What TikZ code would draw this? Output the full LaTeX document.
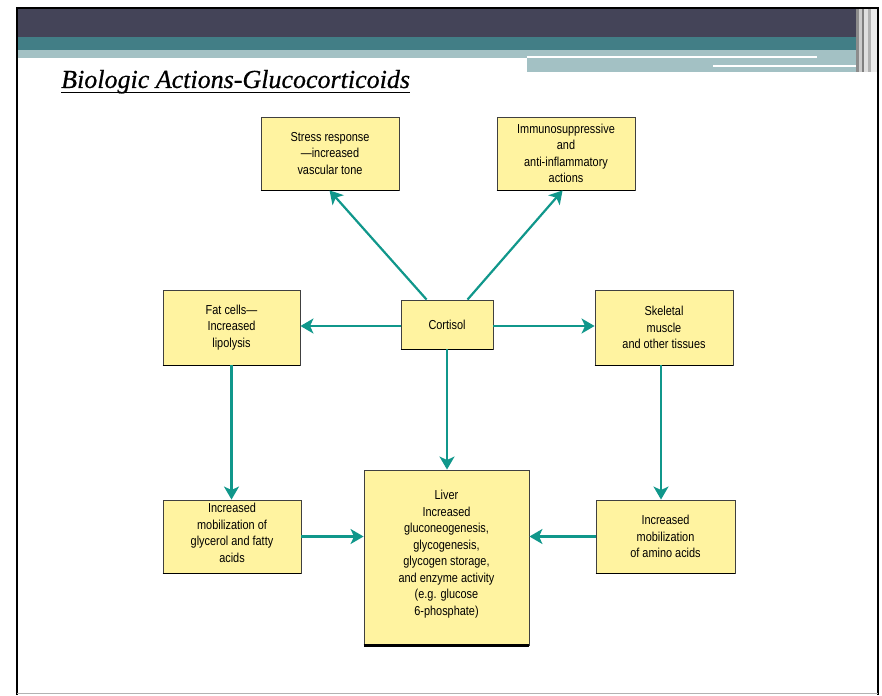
\documentclass[tikz,border=0pt]{standalone}
\usepackage{fontspec}
\setmainfont{Liberation Serif}
\newfontfamily\boxfont[FakeStretch=0.84]{Liberation Sans}
\newfontfamily\titlefont[FakeBold=0.6]{Liberation Serif}
\usetikzlibrary{arrows.meta}
\definecolor{bandDark}{HTML}{444458}
\definecolor{bandTeal}{HTML}{427E86}
\definecolor{bandLight}{HTML}{A3C1C4}
\definecolor{boxYellow}{HTML}{FFF3A0}
\definecolor{arrowTeal}{HTML}{10978B}
\tikzset{
  boxtext/.style={font=\boxfont\fontsize{13}{16.5}\selectfont},
  infobox/.style={draw=black!75, line width=0.9pt, fill=boxYellow, inner sep=0pt,
    align=center, boxtext},
  flow/.style={draw=arrowTeal, line width=2.2pt,
    -{Stealth[length=13pt,width=15pt,inset=3.5pt]}},
}
\begin{document}
\begin{tikzpicture}[x=1pt,y=-1pt]
\useasboundingbox (0,0) rectangle (882,695);
\fill[white] (0,0) rectangle (882,695);

% slide header bands
\fill[bandDark] (17,8) rectangle (856,37);
\fill[bandTeal] (17,37) rectangle (856,50);
\fill[bandLight] (17,50) rectangle (527,58);
\fill[bandLight] (527,50) rectangle (866,72);
\fill[white] (527,56) rectangle (817,58.5);
\fill[white] (713,65) rectangle (866,67.5);
% right-hand vertical stripes
\fill[black!45] (856,8) rectangle (859,72);
\fill[black!20] (859,8) rectangle (862,72);
\fill[black!50] (862,8) rectangle (864,72);
\fill[black!12] (864,8) rectangle (868,72);
\fill[black!30] (868,8) rectangle (871,72);
\fill[black!8] (871,8) rectangle (877,72);

% slide frame
\draw[line width=2pt] (17,695) -- (17,8) -- (878,8) -- (878,695);
\draw[black!30, line width=1pt] (17,693) -- (878,693);

% title with its underline
\node[anchor=base west, inner sep=0pt, font=\titlefont\itshape\fontsize{26}{30}\selectfont]
  (title) at (61,88) {Biologic Actions-Glucocorticoids};
\draw[line width=1.8pt] ([yshift=-4.5pt]title.base west) -- ([yshift=-4.5pt]title.base east);

% boxes
\node[infobox, minimum width=138pt, minimum height=73pt] (stress) at (330,153.5)
  {Stress response\\—increased\\vascular tone};
\node[infobox, minimum width=138pt, minimum height=73pt] (immuno) at (566,153.5)
  {Immunosuppressive\\and\\anti-inflammatory\\actions};
\node[infobox, minimum width=137pt, minimum height=75pt] (fat) at (231.5,327.5)
  {Fat cells—\\Increased\\lipolysis};
\node[infobox, minimum width=92pt, minimum height=49pt] (cort) at (447,324.5)
  {Cortisol};
\node[infobox, minimum width=138pt, minimum height=75pt] (skel) at (664,327.5)
  {Skeletal\\muscle\\and other tissues};
\node[infobox, minimum width=138pt, minimum height=73pt] (gly) at (232,536.5) {};
\node[anchor=north, align=center, inner sep=0pt, boxtext]
  (glytext) at (232,503) {Increased\\mobilization of\\glycerol and fatty\\acids};
\node[infobox, minimum width=165pt, minimum height=175pt] (liver) at (446.5,557.5) {};
\node[anchor=north, align=center, inner sep=0pt, boxtext]
  (livertext) at (446.5,490) {Liver\\Increased\\gluconeogenesis,\\glycogenesis,\\glycogen storage,\\and enzyme activity\\(e.g. glucose\\6-phosphate)};
\node[infobox, minimum width=139pt, minimum height=73pt] (amino) at (665.5,536.5)
  {Increased\\mobilization\\of amino acids};

% heavier lower edges of the boxes
\foreach \b in {stress,immuno,fat,cort,skel,gly,amino}
  \draw[line width=1.6pt] (\b.south west) -- (\b.south east);
\draw[line width=2.6pt] (liver.south west) -- (liver.south east);

% connectors
\draw[flow] ([xshift=26pt]cort.north west) -- ([xshift=69pt]stress.south west);
\draw[flow] ([xshift=67pt]cort.north west) -- ([xshift=66pt]immuno.south west);
\draw[flow] ([yshift=-1.5pt]cort.west) -- ([yshift=-1.5pt]cort.west -| fat.east);
\draw[flow] ([yshift=-1.5pt]cort.east) -- ([yshift=-1.5pt]cort.east -| skel.west);
\draw[flow] (cort.south) -- (cort.south |- liver.north);
\draw[flow] (fat.south) -- (fat.south |- gly.north);
\draw[flow] ([xshift=-3pt]skel.south) -- ([xshift=-3pt]skel.south |- amino.north);
\draw[flow] (gly.east) -- (gly.east -| liver.west);
\draw[flow] (amino.west) -- (amino.west -| liver.east);
\end{tikzpicture}
\end{document}
